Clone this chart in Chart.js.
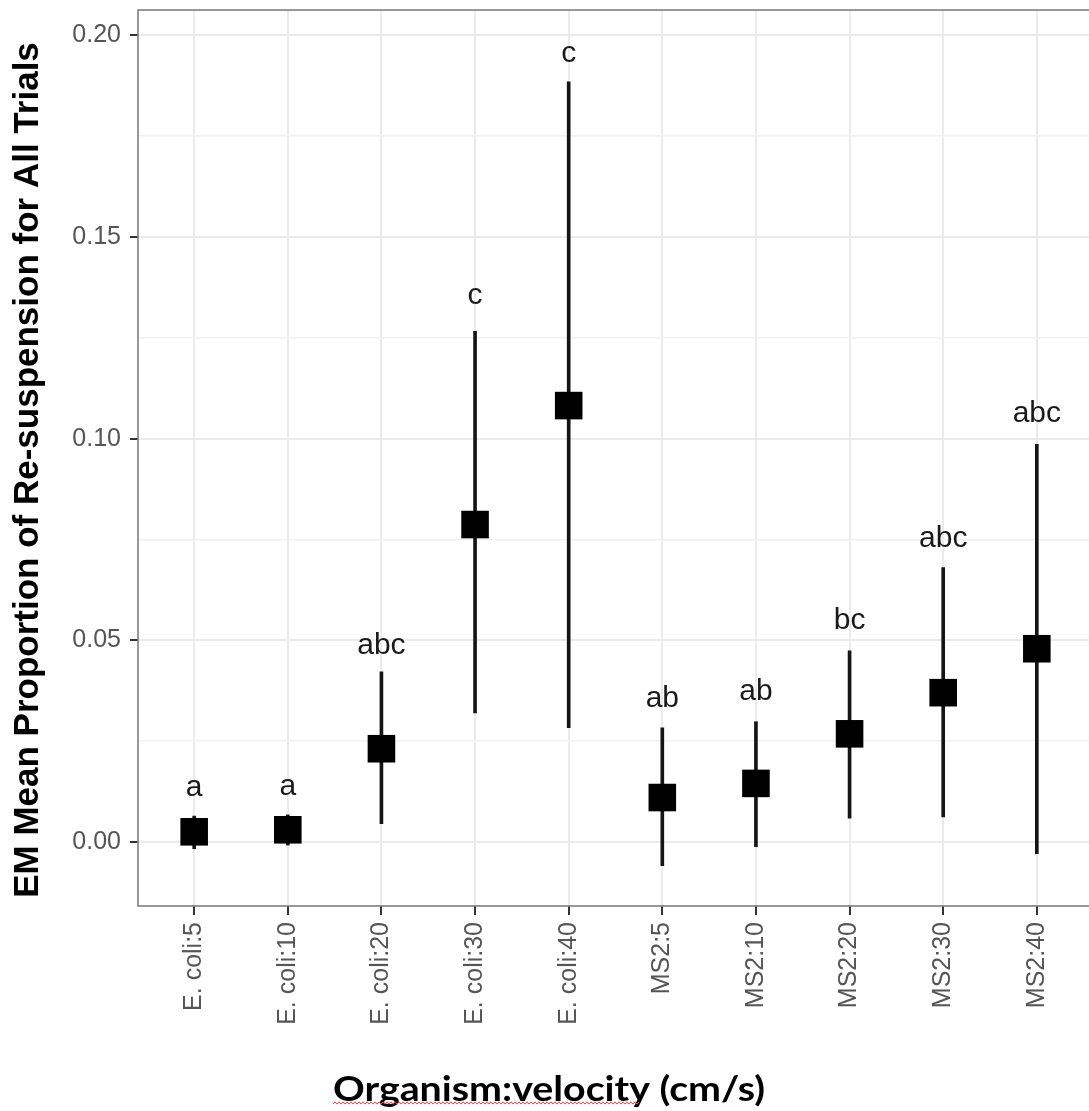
<!DOCTYPE html>
<html>
<head>
<meta charset="utf-8">
<title>EM mean proportion of re-suspension</title>
<script src="https://cdn.jsdelivr.net/npm/chart.js@4.4.1/dist/chart.umd.min.js"></script>
<style>
    html, body { margin: 0; padding: 0; background: #fff; overflow: hidden; }
    #wrap { width: 1096px; height: 1111px; }
</style>
</head>
<body>
<div id="wrap"><canvas id="emChart" width="1096" height="1111"></canvas></div>
<script>
// values
const CATEGORIES = ["E. coli:5", "E. coli:10", "E. coli:20", "E. coli:30", "E. coli:40",
                    "MS2:5", "MS2:10", "MS2:20", "MS2:30", "MS2:40"];
const MEANS = [0.0025, 0.0030, 0.0231, 0.0787, 0.1082, 0.0110, 0.0145, 0.0268, 0.0370, 0.0479];
const LOWER = [-0.0017, -0.0008, 0.0045, 0.0320, 0.0283, -0.0059, -0.0012, 0.0059, 0.0062, -0.0029];
const UPPER = [0.0064, 0.0067, 0.0422, 0.1266, 0.1885, 0.0283, 0.0298, 0.0474, 0.0680, 0.0986];
const LETTERS = ["a", "a", "abc", "c", "c", "ab", "ab", "bc", "abc", "abc"];
const LETTER_Y = [0.0134, 0.0137, 0.0486, 0.1355, 0.1955, 0.0355, 0.0372, 0.0548, 0.0752, 0.1062];
const Y_MAJOR = [0, 0.05, 0.10, 0.15, 0.20];
const Y_MINOR = [0.025, 0.075, 0.125, 0.175];

const Y_TITLE = "EM Mean Proportion of Re-suspension for All Trials";
const X_TITLE = "Organism:velocity (cm/s)";

function isMajor(v) {
    return Y_MAJOR.some(m => Math.abs(m - v) < 1e-9);
}

// letters above each error bar
const letterPlugin = {
    id: "letters",
    afterDatasetsDraw(chart) {
        const { ctx, scales: { x, y } } = chart;
        ctx.save();
        ctx.font = "30px 'Liberation Sans', Arial, sans-serif";
        ctx.fillStyle = "#1a1a1a";
        ctx.textAlign = "center";
        ctx.textBaseline = "middle";
        LETTERS.forEach((txt, i) => {
            ctx.fillText(txt, x.getPixelForValue(i), y.getPixelForValue(LETTER_Y[i]));
        });
        ctx.restore();
    }
};

// panel border + axis titles
const framePlugin = {
    id: "frame",
    afterDatasetsDraw(chart) {
        const { ctx, chartArea: a } = chart;
        ctx.save();
        ctx.strokeStyle = "#7f7f7f";
        ctx.lineWidth = 1.6;
        ctx.strokeRect(a.left, a.top, a.right - a.left, a.bottom - a.top);
        ctx.restore();
    },
    afterDraw(chart) {
        const ctx = chart.ctx;
        ctx.save();
        // y title
        ctx.translate(28, 470);
        ctx.rotate(-Math.PI / 2);
        ctx.font = "bold 35px 'Liberation Sans', Arial, sans-serif";
        ctx.fillStyle = "#000";
        ctx.textAlign = "center";
        ctx.textBaseline = "middle";
        ctx.fillText(Y_TITLE, 0, 0);
        ctx.restore();

        // x title (pasted-in label, sits under the page centre)
        ctx.save();
        ctx.font = "bold 35px Lato, 'Open Sans', sans-serif";
        const w = ctx.measureText(X_TITLE).width;
        ctx.translate(549, 1090);
        ctx.scale(432 / w, 1);
        ctx.fillStyle = "#000";
        ctx.textAlign = "center";
        ctx.textBaseline = "middle";
        ctx.fillText(X_TITLE, 0, 0);
        ctx.restore();

        // spell-check squiggle under the first word
        ctx.save();
        ctx.strokeStyle = "#e8474c";
        ctx.lineWidth = 1;
        ctx.beginPath();
        for (let px = 333, k = 0; px <= 640; px += 2, k++) {
            const py = 1103 + (k % 2 ? -1.2 : 1.2);
            if (k === 0) ctx.moveTo(px, py); else ctx.lineTo(px, py);
        }
        ctx.stroke();
        ctx.restore();
    }
};

const ctx = document.getElementById("emChart").getContext("2d");

const chart = new Chart(ctx, {
    type: "bar",
    data: {
        datasets: [
            {
                // error bars as thin floating bars
                type: "bar",
                data: CATEGORIES.map((c, i) => ({ x: i, y: [LOWER[i], UPPER[i]] })),
                backgroundColor: "#151515",
                barThickness: 3,
                borderWidth: 0,
                order: 2
            },
            {
                type: "scatter",
                data: CATEGORIES.map((c, i) => ({ x: i, y: MEANS[i] })),
                pointStyle: "rect",
                pointRadius: 19.5,
                backgroundColor: "#000",
                borderWidth: 0,
                order: 1
            }
        ]
    },
    options: {
        responsive: false,
        animation: false,
        devicePixelRatio: 1,
        events: [],
        layout: {
            autoPadding: false,
            padding: { left: 0, right: 3, top: 10, bottom: 0 }
        },
        plugins: {
            legend: { display: false },
            tooltip: { enabled: false },
            title: { display: false }
        },
        scales: {
            x: {
                type: "linear",
                min: -0.6,
                max: 9.6,
                offset: false,
                afterBuildTicks: scale => {
                    scale.ticks = CATEGORIES.map((c, i) => ({ value: i }));
                },
                afterFit: scale => {
                    scale.height = 205;
                    scale.paddingLeft = 0;
                    scale.paddingRight = 0;
                },
                ticks: {
                    autoSkip: false,
                    minRotation: 90,
                    maxRotation: 90,
                    padding: 7,
                    color: "#555",
                    font: { family: "'Liberation Sans', Arial, sans-serif", size: 25 },
                    callback: v => CATEGORIES[v]
                },
                grid: {
                    offset: false,
                    color: "#ebebeb",
                    lineWidth: 2,
                    drawTicks: true,
                    tickLength: 9,
                    tickColor: "#333",
                    tickWidth: 2
                },
                border: { display: false }
            },
            y: {
                type: "linear",
                min: -0.0159,
                max: 0.2063,
                afterBuildTicks: scale => {
                    scale.ticks = [...Y_MAJOR, ...Y_MINOR].sort((a, b) => a - b).map(v => ({ value: v }));
                },
                afterFit: scale => {
                    scale.width = 138;
                    scale.paddingTop = 0;
                    scale.paddingBottom = 0;
                },
                ticks: {
                    padding: 9,
                    color: "#555",
                    font: { family: "'Liberation Sans', Arial, sans-serif", size: 25 },
                    callback: v => isMajor(v) ? v.toFixed(2) : ""
                },
                grid: {
                    color: c => isMajor(c.tick.value) ? "#ebebeb" : "#f1f1f1",
                    lineWidth: c => isMajor(c.tick.value) ? 2 : 1.6,
                    drawTicks: true,
                    tickLength: 8,
                    tickColor: c => isMajor(c.tick.value) ? "#333" : "rgba(0,0,0,0)",
                    tickWidth: 2
                },
                border: { display: false }
            }
        }
    },
    plugins: [letterPlugin, framePlugin]
});
</script>
</body>
</html>
